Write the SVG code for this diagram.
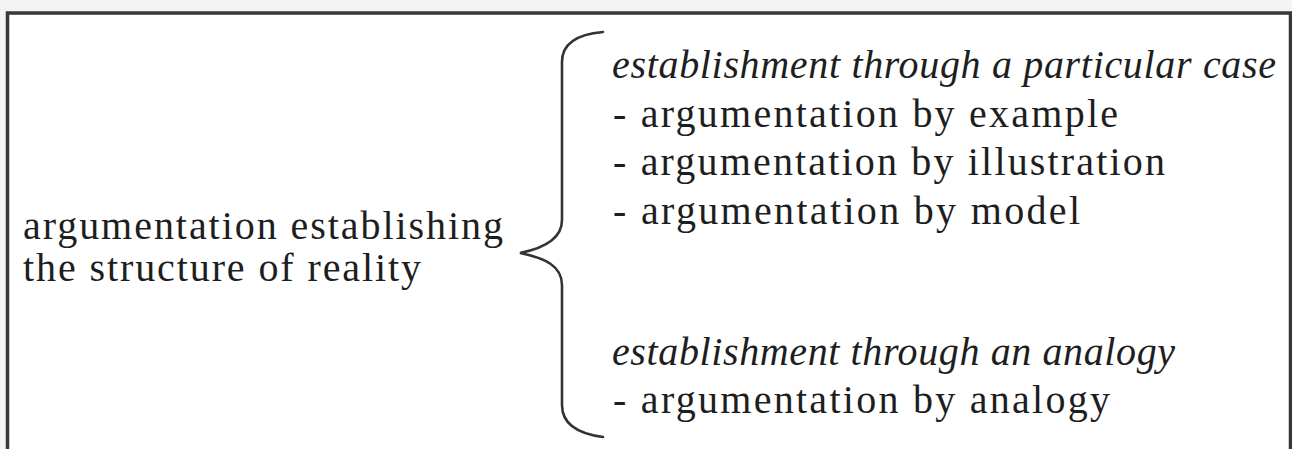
<svg xmlns="http://www.w3.org/2000/svg" width="1292" height="449" viewBox="0 0 1292 449">
<style>
.t{font-family:"Liberation Serif","Times New Roman",serif;font-size:40px;fill:#1e1e1e}
.i{font-style:italic}
.brace{fill:none;stroke:#333;stroke-width:2.6;stroke-linecap:round}
</style>
<rect x="0" y="0" width="1292" height="449" fill="#f4f4f4"/>
<rect x="9" y="15" width="1280" height="434" fill="#fff"/>
<path d="M7.5,449 V13 H1290.5 V449" fill="none" stroke="#383838" stroke-width="3.5"/>
<g id="root">
<text class="t" x="23" y="239" textLength="480" lengthAdjust="spacing">argumentation establishing</text>
<text class="t" x="23" y="281" textLength="398" lengthAdjust="spacing">the structure of reality</text>
</g>
<g id="connectors">
<path class="brace" d="M603,32 C580,34 562,42 562,62 V220 C562,238 545,248 520,253 C545,258 562,266 562,285 V405 C562,425 580,434 603,437"/>
</g>
<g id="case">
<text class="t i" x="612" y="78" textLength="664" lengthAdjust="spacing">establishment through a particular case</text>
<text class="t" x="613" y="127" textLength="505" lengthAdjust="spacing">- argumentation by example</text>
<text class="t" x="613" y="175" textLength="552" lengthAdjust="spacing">- argumentation by illustration</text>
<text class="t" x="613" y="224" textLength="467" lengthAdjust="spacing">- argumentation by model</text>
</g>
<g id="analogy">
<text class="t i" x="612" y="365" textLength="563" lengthAdjust="spacing">establishment through an analogy</text>
<text class="t" x="613" y="413" textLength="497" lengthAdjust="spacing">- argumentation by analogy</text>
</g>
</svg>
